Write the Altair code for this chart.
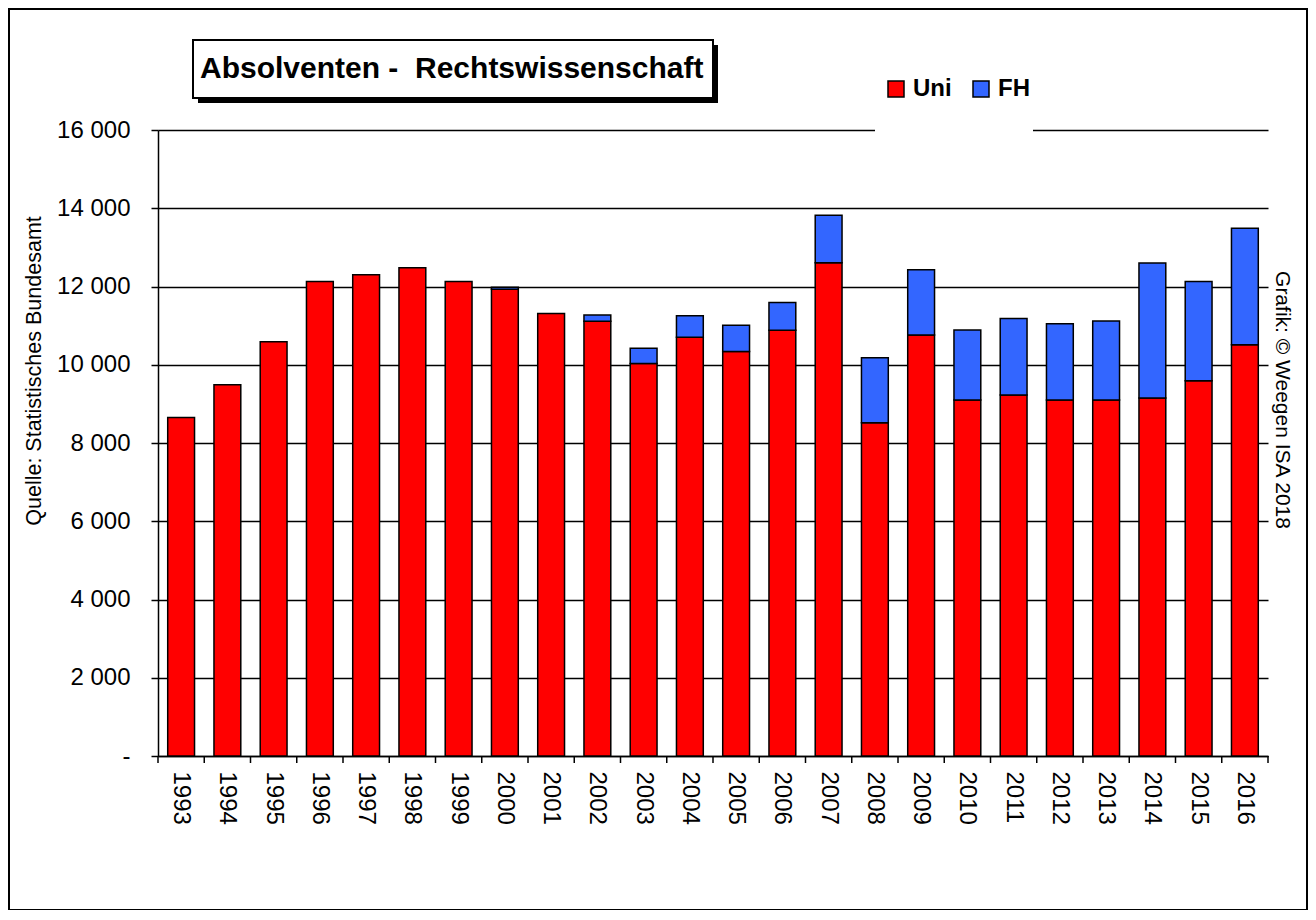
import altair as alt
import pandas as pd

years = [1993, 1994, 1995, 1996, 1997, 1998, 1999, 2000, 2001, 2002, 2003, 2004,
         2005, 2006, 2007, 2008, 2009, 2010, 2011, 2012, 2013, 2014, 2015, 2016]
uni = [8650, 9490, 10590, 12130, 12300, 12480, 12130, 11930, 11310, 11110, 10030, 10700,
       10340, 10880, 12610, 8520, 10760, 9100, 9230, 9100, 9100, 9150, 9590, 10510]
fh = [0, 0, 0, 0, 0, 0, 0, 50, 0, 160, 390, 550,
      670, 710, 1210, 1660, 1670, 1790, 1950, 1950, 2020, 3450, 2540, 2980]
series = ["Uni", "FH"]
colors = ["#ff0000", "#3366ff"]
y_ticks = [0, 2000, 4000, 6000, 8000, 10000, 12000, 14000, 16000]

title_text = "Absolventen -\u00a0 Rechtswissenschaft"
source_text = "Quelle: Statistisches Bundesamt"
credit_text = "Grafik: \u00a9 Weegen ISA 2018"

year_labels = [str(y) for y in years]
rows = []
for y, u, f in zip(year_labels, uni, fh):
    rows.append({"Jahr": y, "Art": "Uni", "Wert": u, "ord": 0})
    if f > 0:
        rows.append({"Jahr": y, "Art": "FH", "Wert": f, "ord": 1})
df = pd.DataFrame(rows)
df_years = pd.DataFrame({"Jahr": year_labels})

W, H = 1110, 626
FONT = "Liberation Sans"
xscale = alt.Scale(domain=year_labels, paddingInner=0, paddingOuter=0)

bars = alt.Chart(df).mark_bar(
    width=alt.RelativeBandSize(0.58), stroke="black", strokeWidth=1.5
).encode(
    x=alt.X("Jahr:O", title=None, scale=xscale,
            axis=alt.Axis(ticks=False, labelAngle=90, labelFont=FONT, labelFontSize=24,
                          labelColor="black", labelPadding=15,
                          domainColor="black", domainWidth=1.5)),
    y=alt.Y("Wert:Q", stack=True, title=None,
            scale=alt.Scale(domain=[0, 16000], nice=False),
            axis=alt.Axis(values=y_ticks, grid=True, gridColor="black", gridWidth=1.5,
                          gridOpacity=1, tickSize=7, tickColor="black", tickWidth=1.5,
                          domainColor="black", domainWidth=1.5,
                          labelFont=FONT, labelFontSize=24, labelColor="black",
                          labelPadding=21,
                          labelExpr="datum.value == 0 ? '-' : replace(format(datum.value, ','), ',', ' ')")),
    color=alt.Color("Art:N", scale=alt.Scale(domain=series, range=colors),
                    legend=alt.Legend(title=None, orient="none", legendX=726, legendY=-53,
                                      direction="horizontal", symbolType="square",
                                      symbolSize=256, symbolStrokeColor="black",
                                      symbolStrokeWidth=1.5, symbolOpacity=1,
                                      labelFont=FONT, labelFontSize=24,
                                      labelFontWeight="bold", labelColor="black",
                                      labelOffset=5, columnPadding=17)),
    order=alt.Order("ord:Q"),
)

# x-axis ticks on the category boundaries
xticks = alt.Chart(df_years).mark_rule(color="black", strokeWidth=1.5).encode(
    x=alt.X("Jahr:O", bandPosition=0, title=None, scale=xscale),
    y=alt.value(H), y2=alt.value(H + 7))

one = pd.DataFrame({"k": [0]})
base = alt.Chart(one)

end_tick = base.mark_rule(color="black", strokeWidth=1.5).encode(
    x=alt.value(W), y=alt.value(H), y2=alt.value(H + 7))
frame = base.mark_rect(fillOpacity=0, stroke="black", strokeWidth=2).encode(
    x=alt.value(-149), x2=alt.value(1149), y=alt.value(-121), y2=alt.value(780))
gap = base.mark_rect(color="white").encode(
    x=alt.value(717), x2=alt.value(875), y=alt.value(-3), y2=alt.value(3))
shadow = base.mark_rect(color="black").encode(
    x=alt.value(40), x2=alt.value(560), y=alt.value(-85), y2=alt.value(-27))
tbox = base.mark_rect(fill="white", stroke="black", strokeWidth=2).encode(
    x=alt.value(35), x2=alt.value(555), y=alt.value(-90), y2=alt.value(-32))
ttext = base.mark_text(align="left", baseline="middle", font=FONT, fontSize=30,
                       fontWeight="bold", color="black").encode(
    x=alt.value(42), y=alt.value(-61), text=alt.value(title_text))
src = base.mark_text(align="center", baseline="middle", font=FONT, fontSize=21.5,
                     angle=270, color="black").encode(
    x=alt.value(-123), y=alt.value(241), text=alt.value(source_text))
cred = base.mark_text(align="center", baseline="middle", font=FONT, fontSize=21,
                      angle=90, color="black").encode(
    x=alt.value(1124), y=alt.value(270), text=alt.value(credit_text))

chart = alt.layer(frame, bars, xticks, end_tick, gap, shadow, tbox, ttext, src, cred).properties(
    width=W, height=H,
    autosize=alt.AutoSizeParams(type="none"),
    padding={"left": 150, "top": 122, "right": 40, "bottom": 154},
    background="white",
).configure(font=FONT, view=alt.ViewConfig(stroke=None))

chart.save("out.html", embed_options={"renderer": "svg", "actions": False})
